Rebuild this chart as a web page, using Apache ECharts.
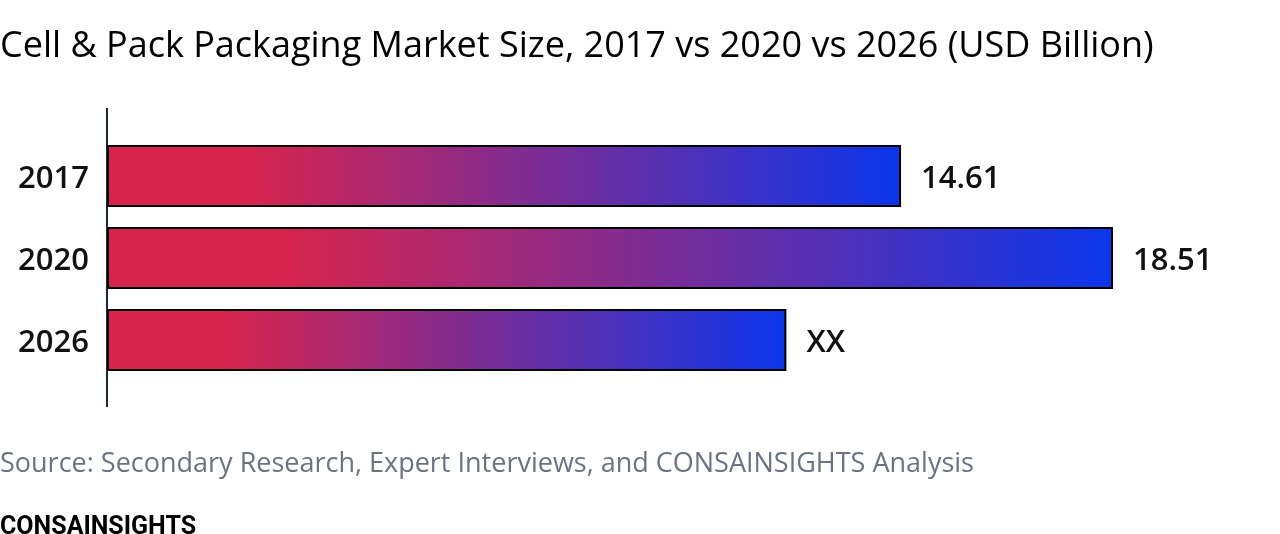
<!DOCTYPE html>
<html>
<head>
<meta charset="utf-8">
<script src="https://cdn.jsdelivr.net/npm/echarts@6/dist/echarts.min.js"></script>
<style>html,body{margin:0;padding:0;background:#fff}#c{width:1280px;height:534px}</style>
</head>
<body>
<div id="c"></div>
<script>
const categories = ['2017', '2020', '2026'];
const values = [14.61, 18.51, 12.5];
const valueLabels = ['14.61', '18.51', 'XX'];
const titleText = 'Cell & Pack Packaging Market Size, 2017 vs 2020 vs 2026 (USD Billion)';
const sourceText = 'Source: Secondary Research, Expert Interviews, and CONSAINSIGHTS Analysis';
const brandText = 'CONSAINSIGHTS';

const chart = echarts.init(document.getElementById('c'));
const grad = new echarts.graphic.LinearGradient(0, 0, 1, 0, [
  {offset: 0, color: '#D6244E'},
  {offset: 0.18, color: '#D6244E'},
  {offset: 1, color: '#0B36EC'}
]);
const labStyle = {fontFamily: 'Open Sans', fontSize: 31, fontWeight: 600, color: '#111', padding: [6, 0, 0, 0]};
chart.setOption({
  animation: false,
  title: {
    text: titleText, left: 0, top: 29, padding: 0,
    textStyle: {fontFamily: 'Open Sans', fontSize: 36, fontWeight: 'normal', color: '#000'}
  },
  grid: {left: 107, right: 86, top: 135, height: 246, containLabel: false},
  xAxis: {type: 'value', min: 0, max: 20, show: false},
  yAxis: {
    type: 'category', data: categories, inverse: true,
    axisLine: {show: false}, axisTick: {show: false},
    axisLabel: {margin: 18, formatter: '{a|{value}}', rich: {a: labStyle}}
  },
  series: [{
    type: 'bar', data: values, barWidth: 62,
    itemStyle: {color: grad, borderColor: '#000', borderWidth: 2},
    label: {
      show: true, position: 'right', distance: 20,
      formatter: p => '{a|' + valueLabels[p.dataIndex] + '}',
      rich: {a: labStyle}
    }
  }],
  graphic: [
    {type: 'line', shape: {x1: 107, y1: 108, x2: 107, y2: 407}, style: {stroke: '#1f2937', lineWidth: 2}},
    {type: 'text', left: 0, top: 451, style: {text: sourceText, fontFamily: 'Open Sans', fontSize: 27, fill: '#6b7280'}},
    {type: 'text', left: 0, top: 515, style: {text: brandText, fontFamily: 'Roboto', fontSize: 25, fontWeight: 'bold', fill: '#000'}}
  ]
});
</script>
</body>
</html>
